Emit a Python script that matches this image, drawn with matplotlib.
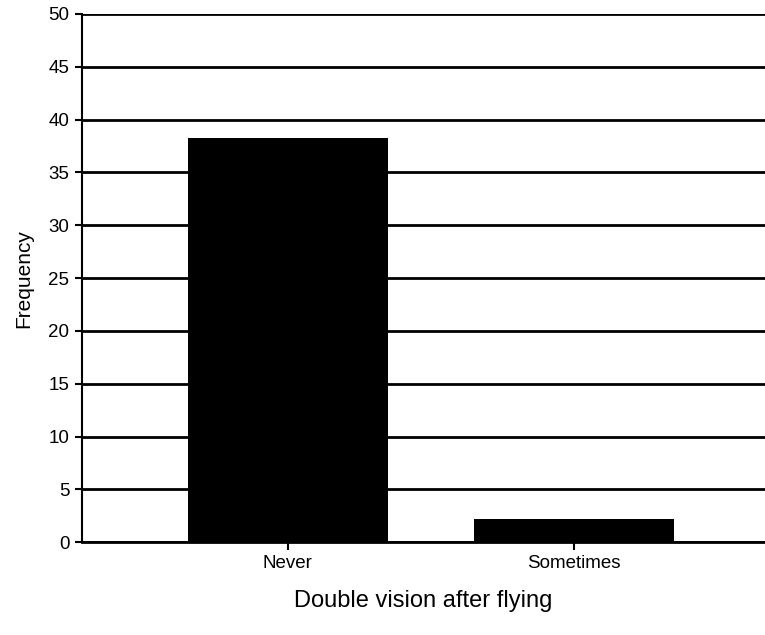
import matplotlib
matplotlib.use("Agg")
import matplotlib.pyplot as plt

categories = ["Never", "Sometimes"]
frequencies = [38.3, 2.2]
y_ticks = [0, 5, 10, 15, 20, 25, 30, 35, 40, 45, 50]

plt.rcParams['font.family'] = ['Liberation Sans', 'DejaVu Sans']

fig = plt.figure(figsize=(7.65, 6.35), dpi=100)
ax = fig.add_axes([0.107, 0.146, 0.893, 0.832])

x = list(range(len(categories)))
ax.bar(x, frequencies, width=0.7, color='black', zorder=3)

ax.set_xlim(-0.72, 1.668)
ax.set_ylim(0, 50)
ax.set_yticks(y_ticks)
ax.set_yticklabels([str(v) for v in y_ticks], fontsize=13.5)
ax.set_xticks(x)
ax.set_xticklabels(categories, fontsize=13.5)

ax.yaxis.grid(True, color='black', linewidth=2, zorder=1)
ax.set_axisbelow(True)
ax.spines['top'].set_visible(False)
ax.spines['right'].set_visible(False)
ax.spines['left'].set_linewidth(1.5)
ax.spines['bottom'].set_linewidth(2)
ax.tick_params(axis='y', length=5, width=1.5, pad=4)
ax.tick_params(axis='x', length=6, width=1.5, pad=3)

ax.set_ylabel("Frequency", fontsize=15, labelpad=11)
ax.set_xlabel("Double vision after flying", fontsize=17, labelpad=13)

fig.savefig("out.png", dpi=100)
